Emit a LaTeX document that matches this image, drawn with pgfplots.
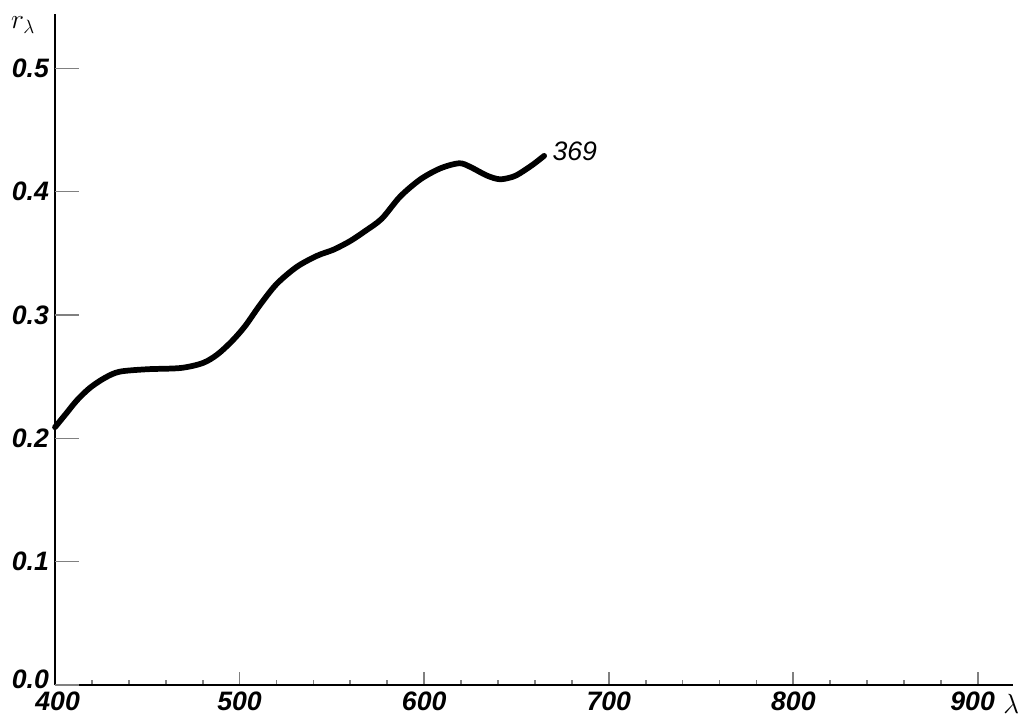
\documentclass[border=0pt]{standalone}
\usepackage{fontspec}
\setmainfont{Liberation Sans}
\usepackage{pgfplots}
\pgfplotsset{compat=1.18}
\begin{document}
\begin{tikzpicture}
\useasboundingbox (-41.25pt,-25.5pt) rectangle (727.5pt,513.75pt);
\begin{axis}[
  scale only axis,
  width=718.5pt, height=503.25pt,
  at={(0,0)}, anchor=south west,
  xmin=400, xmax=919, ymin=0, ymax=0.544,
  axis lines=left,
  axis line style={line width=1.8pt, -},
  clip=false,
  xtick={400,500,600,700,800,900},
  xticklabels={\hspace*{4pt}400,500,600,700,800,\hspace*{-8pt}900},
  minor x tick num=4,
  ytick=\empty,
  minor ytick={0.05,0.15,0.25,0.35,0.45},
  extra y ticks={0,0.1,0.2,0.3,0.4,0.5},
  extra y tick labels={\raisebox{9pt}{0.0},0.1,0.2,0.3,0.4,0.5},
  extra y tick style={major tick length=18pt, tick style={line width=1pt}},
  tick align=inside,
  major tick length=10pt,
  minor tick length=4pt,
  xtick style={line width=1.3pt},
  ytick style={line width=1pt},
  tick label style={font=\fontsize{20}{22}\selectfont\bfseries\itshape},
  xticklabel style={yshift=-4pt, inner sep=1pt},
  yticklabel style={xshift=-1pt},
]
\addplot[black, line width=4.3pt, smooth, line cap=round] coordinates {
(400,0.209) (406,0.220) (412,0.231) (419,0.241) (427,0.249) (435,0.254)
(450,0.256) (468,0.257) (480,0.261) (488,0.268) (496,0.279) (503,0.291)
(511,0.308) (520,0.325) (531,0.339) (542,0.348) (551,0.353) (560,0.360)
(568,0.368) (577,0.378) (587,0.396) (598,0.410) (609,0.419) (619,0.423)
(625,0.420) (634,0.413) (641,0.410) (648,0.412) (652,0.415) (659,0.422)
(665,0.429)
};
\node[anchor=west, font=\fontsize{20}{22}\selectfont\itshape] at (axis cs:667,0.433) {369};
\end{axis}
\node[anchor=west, inner sep=0pt, font=\fontsize{21}{22}\selectfont\bfseries\itshape] at (711pt,-14pt) {$\lambda$};
\node[font=\fontsize{20}{22}\selectfont\itshape] at (-24pt,495pt) {$r_{\lambda}$};
\end{tikzpicture}
\end{document}
